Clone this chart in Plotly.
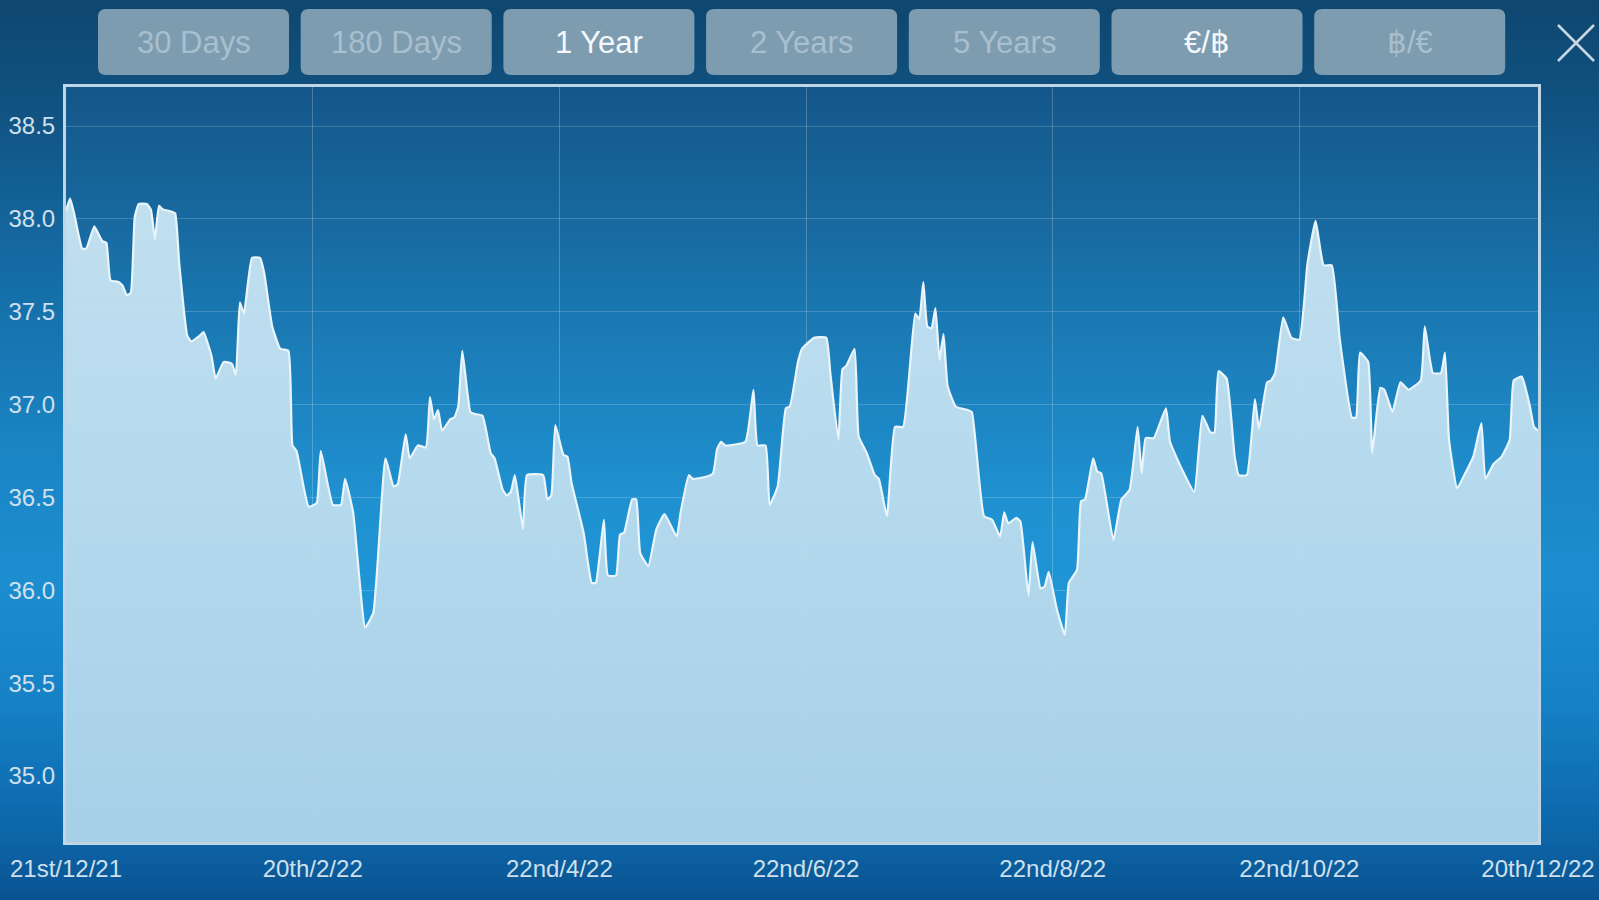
import plotly.graph_objects as go
import pandas as pd

# ---- data: €/฿ rate, 1 year view ----
START = "2021-12-21"
day_offset = [
    0, 1, 2, 4, 5, 7, 8, 9, 10, 11, 13, 14, 15, 16, 17, 18, 20, 21, 22, 23,
    24, 26, 27, 28, 30, 31, 33, 34, 36, 37, 39, 41, 42, 43, 44, 46, 48, 49, 51, 53,
    55, 56, 57, 60, 62, 63, 66, 68, 69, 71, 74, 76, 79, 81, 82, 84, 85, 87, 89, 90,
    91, 92, 93, 95, 96, 97, 98, 100, 101, 103, 105, 106, 108, 109, 110, 111, 113, 114, 118, 119,
    120, 121, 123, 124, 125, 128, 130, 131, 133, 134, 136, 137, 138, 140, 141, 142, 144, 146, 148, 151,
    152, 154, 155, 158, 160, 161, 162, 163, 168, 170, 171, 173, 174, 176, 178, 179, 181, 182, 185, 188,
    189, 191, 192, 193, 195, 196, 198, 200, 201, 203, 205, 207, 210, 211, 212, 213, 214, 215, 216, 217,
    218, 220, 223, 224, 227, 229, 231, 232, 233, 235, 236, 238, 239, 241, 242, 243, 245, 247, 248, 250,
    251, 252, 254, 255, 256, 259, 261, 263, 265, 266, 267, 269, 272, 273, 276, 279, 281, 283, 284, 285,
    287, 289, 290, 292, 294, 295, 297, 298, 299, 301, 303, 305, 307, 309, 311, 313, 315, 318, 319, 320,
    322, 323, 325, 326, 328, 330, 332, 335, 336, 338, 340, 341, 342, 344, 346, 348, 350, 351, 353, 355,
    357, 358, 360, 362, 363, 364,
]
rate = [
    38.04, 38.11, 38.03, 37.84, 37.84, 37.96, 37.92, 37.88, 37.87, 37.67, 37.66, 37.64, 37.59, 37.60, 38.01, 38.08, 38.08, 38.05, 37.89, 38.07,
    38.05, 38.04, 38.03, 37.76, 37.37, 37.34, 37.37, 37.39, 37.26, 37.14, 37.23, 37.22, 37.16, 37.55, 37.49, 37.79, 37.79, 37.71, 37.42, 37.30,
    37.29, 36.78, 36.75, 36.45, 36.47, 36.75, 36.46, 36.46, 36.60, 36.42, 35.80, 35.88, 36.71, 36.56, 36.57, 36.84, 36.71, 36.78, 36.77, 37.04,
    36.92, 36.97, 36.86, 36.92, 36.93, 36.99, 37.29, 36.96, 36.95, 36.94, 36.74, 36.71, 36.54, 36.51, 36.53, 36.62, 36.33, 36.62, 36.62, 36.49,
    36.51, 36.89, 36.73, 36.72, 36.58, 36.31, 36.04, 36.04, 36.38, 36.08, 36.08, 36.30, 36.31, 36.49, 36.49, 36.20, 36.13, 36.33, 36.41, 36.29,
    36.42, 36.62, 36.60, 36.61, 36.63, 36.76, 36.80, 36.78, 36.80, 37.08, 36.78, 36.78, 36.46, 36.56, 36.98, 36.99, 37.23, 37.30, 37.36, 37.36,
    37.17, 36.81, 37.19, 37.21, 37.30, 36.83, 36.74, 36.62, 36.60, 36.40, 36.88, 36.88, 37.49, 37.46, 37.66, 37.42, 37.41, 37.52, 37.24, 37.38,
    37.10, 36.99, 36.97, 36.96, 36.40, 36.38, 36.29, 36.42, 36.36, 36.39, 36.37, 35.97, 36.26, 36.01, 36.02, 36.10, 35.90, 35.76, 36.04, 36.11,
    36.48, 36.49, 36.71, 36.64, 36.63, 36.27, 36.49, 36.54, 36.88, 36.63, 36.82, 36.82, 36.98, 36.80, 36.65, 36.53, 36.94, 36.85, 36.85, 37.18,
    37.14, 36.72, 36.62, 36.62, 37.03, 36.87, 37.12, 37.13, 37.17, 37.47, 37.36, 37.35, 37.76, 37.99, 37.75, 37.75, 37.35, 36.93, 36.93, 37.28,
    37.23, 36.74, 37.09, 37.08, 36.96, 37.12, 37.08, 37.13, 37.42, 37.17, 37.17, 37.28, 36.81, 36.55, 36.63, 36.72, 36.90, 36.60, 36.68, 36.72,
    36.81, 37.13, 37.15, 36.99, 36.88, 36.86,
]

tick_dates = ["2021-12-21", "2022-02-20", "2022-04-22", "2022-06-22", "2022-08-22", "2022-10-22", "2022-12-20"]
tick_labels = ["21st/12/21", "20th/2/22", "22nd/4/22", "22nd/6/22", "22nd/8/22", "22nd/10/22", "20th/12/22"]
y_ticks = [35.0, 35.5, 36.0, 36.5, 37.0, 37.5, 38.0, 38.5]

buttons = ["30 Days", "180 Days", "1 Year", "2 Years", "5 Years", "€/฿", "฿/€"]
active = {"1 Year", "€/฿"}

dates = pd.to_datetime(START) + pd.to_timedelta(day_offset, unit="D")

# ---- styling ----
W, H = 1599, 900
L, R, T, B = 66, 61, 87, 58
PW, PH = W - L - R, H - T - B
FONT = "Liberation Sans, Arial, Helvetica, sans-serif"
TICK_COLOR = "#CFE0EC"


def px(x):
    return (x - L) / PW


def py(y):
    return (H - B - y) / PH


def hex_rgb(h):
    h = h.lstrip("#")
    return tuple(int(h[i:i + 2], 16) for i in (0, 2, 4))


def grad_color(stops, y):
    for (y0, c0), (y1, c1) in zip(stops, stops[1:]):
        if y0 <= y <= y1:
            t = (y - y0) / (y1 - y0) if y1 > y0 else 0
            a, b = hex_rgb(c0), hex_rgb(c1)
            return "rgb(%d,%d,%d)" % tuple(round(a[i] + (b[i] - a[i]) * t) for i in range(3))
    return stops[-1][1]


OUTER = [(0, "#0E4770"), (90, "#10507E"), (250, "#1469A1"), (450, "#1A84C4"), (580, "#1C8ED0"),
         (700, "#1682C6"), (800, "#0F6DB1"), (850, "#0C61A3"), (900, "#0A5290")]
INNER = [(86, "#14578A"), (200, "#17669B"), (350, "#1B7DB8"), (500, "#1F91D1"), (650, "#2098D8"), (842, "#1F96D6")]

shapes = []
step = 6
for y0 in range(0, H, step):
    shapes.append(dict(type="rect", xref="paper", yref="paper", layer="below",
                       x0=px(-2), x1=px(W + 2), y0=py(y0 + step + 0.5), y1=py(y0),
                       fillcolor=grad_color(OUTER, y0 + step / 2), line_width=0))
for y0 in range(T, H - B, step):
    y1 = min(y0 + step + 0.5, H - B)
    shapes.append(dict(type="rect", xref="paper", yref="paper", layer="below",
                       x0=0, x1=1, y0=py(y1), y1=py(y0),
                       fillcolor=grad_color(INNER, y0 + step / 2), line_width=0))


def rounded_rect(x0, y0, x1, y1, r):
    rx, ry = r / PW, r / PH
    X0, X1, Y0, Y1 = px(x0), px(x1), py(y1), py(y0)
    return (f"M {X0 + rx},{Y0} L {X1 - rx},{Y0} Q {X1},{Y0} {X1},{Y0 + ry} "
            f"L {X1},{Y1 - ry} Q {X1},{Y1} {X1 - rx},{Y1} L {X0 + rx},{Y1} "
            f"Q {X0},{Y1} {X0},{Y1 - ry} L {X0},{Y0 + ry} Q {X0},{Y0} {X0 + rx},{Y0} Z")


annotations = []
BTN_X0, BTN_W, BTN_GAP, BTN_Y0, BTN_Y1 = 98, 191, 11.7, 9, 75
for i, lab in enumerate(buttons):
    bx = BTN_X0 + i * (BTN_W + BTN_GAP)
    shapes.append(dict(type="path", xref="paper", yref="paper", layer="above",
                       path=rounded_rect(bx, BTN_Y0, bx + BTN_W, BTN_Y1, 8),
                       fillcolor="#7E9CB0", line_width=0))
    on = lab in active
    annotations.append(dict(xref="paper", yref="paper", x=px(bx + BTN_W / 2), y=py((BTN_Y0 + BTN_Y1) / 2 + 1),
                            text=lab, showarrow=False, xanchor="center", yanchor="middle",
                            font=dict(family=FONT, size=31, color="#F4F8FB" if on else "#A8BFCE")))

# close cross
for (xa, ya, xb, yb) in [(1558, 25, 1594, 61), (1558, 61, 1594, 25)]:
    shapes.append(dict(type="line", xref="paper", yref="paper", layer="above",
                       x0=px(xa), y0=py(ya), x1=px(xb), y1=py(yb),
                       line=dict(color="#C8D8E4", width=2.5)))

fig = go.Figure()
fig.add_trace(go.Scatter(
    x=dates, y=rate,
    mode="lines",
    line=dict(color="#EAF5FB", width=2.2, shape="spline", smoothing=0.4),
    fill="tozeroy",
    fillgradient=dict(type="vertical", start=34.6, stop=38.2,
                      colorscale=[[0, "rgba(176,211,232,0.93)"], [1, "rgba(206,233,246,0.93)"]]),
    hoverinfo="x+y",
))

fig.update_layout(
    width=W, height=H,
    margin=dict(l=L, r=R, t=T, b=B, pad=0, autoexpand=False),
    paper_bgcolor="#0E4770",
    plot_bgcolor="rgba(0,0,0,0)",
    showlegend=False,
    shapes=shapes,
    annotations=annotations,
    font=dict(family=FONT, color=TICK_COLOR),
    xaxis=dict(
        type="date", automargin=False,
        range=[tick_dates[0], tick_dates[-1]],
        tickvals=tick_dates, ticktext=tick_labels,
        tickfont=dict(size=24, color=TICK_COLOR),
        ticks="", ticklabelstandoff=3,
        showgrid=True, gridcolor="rgba(255,255,255,0.22)", gridwidth=1,
        showline=True, mirror=True, linecolor="#BFD6E6", linewidth=3,
        zeroline=False, fixedrange=True,
    ),
    yaxis=dict(
        automargin=False,
        range=[34.645, 38.71],
        tickvals=y_ticks, ticktext=[f"{v:.1f}" for v in y_ticks],
        tickfont=dict(size=24, color=TICK_COLOR),
        ticks="", ticklabelstandoff=3,
        showgrid=True, gridcolor="rgba(255,255,255,0.18)", gridwidth=1,
        showline=True, mirror=True, linecolor="#BFD6E6", linewidth=3,
        zeroline=False, fixedrange=True,
    ),
)

fig.write_html("out.html", config={"displayModeBar": False},
               post_script="document.body.style.margin='0';document.body.style.overflow='hidden';")
